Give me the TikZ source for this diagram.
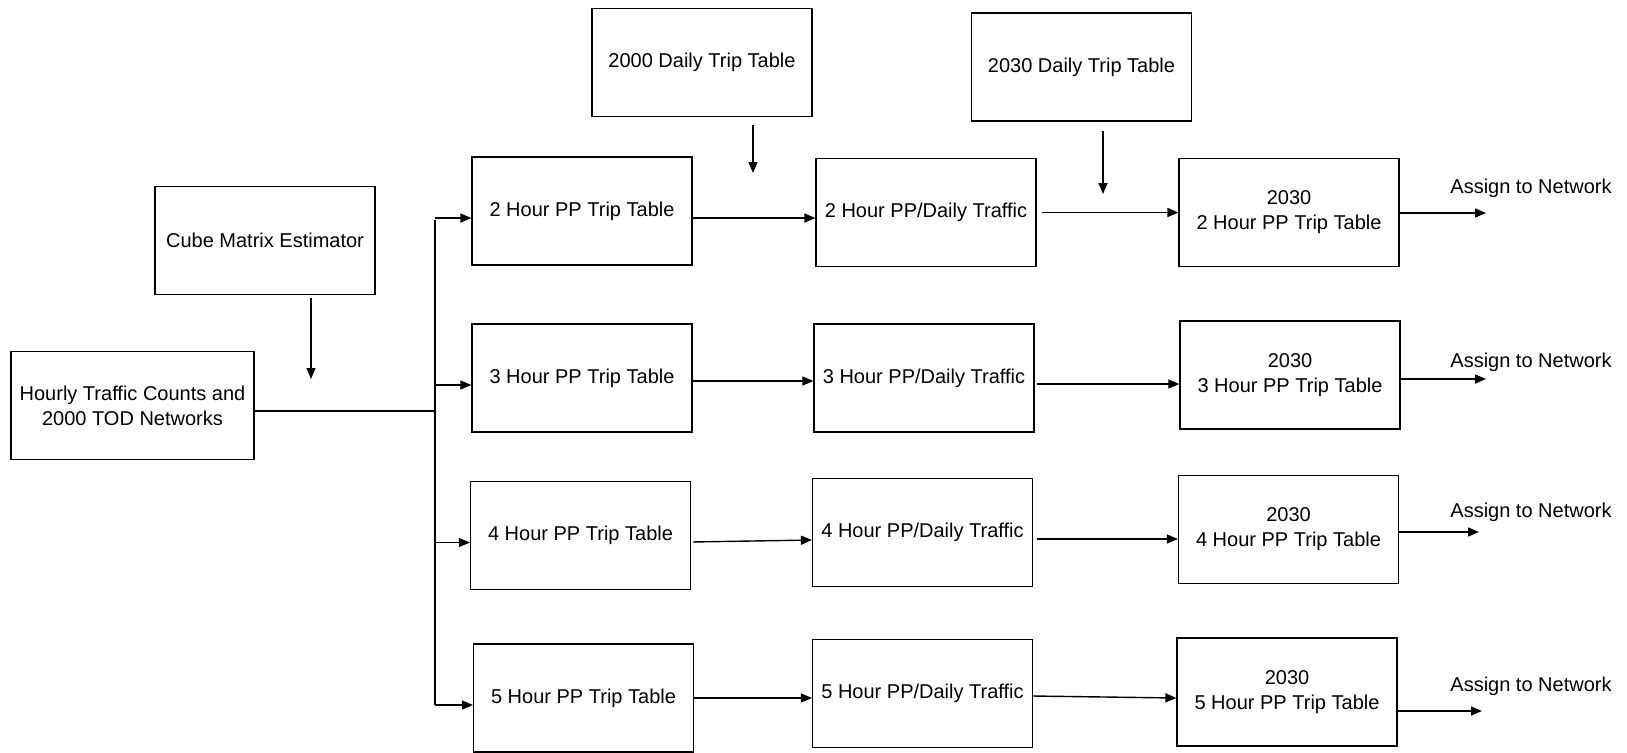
\documentclass[tikz,border=0pt]{standalone}
\usepackage{fontspec}
\setmainfont{Liberation Sans}
\usetikzlibrary{arrows.meta}

\begin{document}
\begin{tikzpicture}[x=0.5pt,y=-0.5pt,
  box/.style={draw,line width=0.6pt,minimum width=110pt,minimum height=54pt,
    inner sep=0pt,align=center,font=\fontsize{10}{12.5}\selectfont},
  arr/.style={line width=0.7pt,-{Triangle[length=5.5pt,width=4.5pt]}},
  lbl/.style={font=\fontsize{10}{12}\selectfont}]
  \useasboundingbox (0,0) rectangle (1627,752);

  % inputs
  \node[box] (cube) at (265,240.5) {Cube Matrix Estimator};
  \node[box,minimum width=121.5pt] (counts) at (132.5,405.5) {Hourly Traffic Counts and\\2000 TOD Networks};
  \node[box] (daily00) at (702,62.5) {2000 Daily Trip Table};
  \node[box] (daily30) at (1081.5,67) {2030 Daily Trip Table};

  % peak period trip tables
  \node[box] (pp2) at (582,211) {2 Hour PP Trip Table};
  \node[box] (pp3) at (582,378) {3 Hour PP Trip Table};
  \node[box] (pp4) at (580.5,535.5) {4 Hour PP Trip Table};
  \node[box] (pp5) at (583.5,698) {5 Hour PP Trip Table};

  % peak period / daily factors
  \node[box] (fac2) at (926,212.5) {2 Hour PP/Daily Traffic};
  \node[box] (fac3) at (924,378) {3 Hour PP/Daily Traffic};
  \node[box] (fac4) at (922.5,532.5) {4 Hour PP/Daily Traffic};
  \node[box] (fac5) at (922.5,693.5) {5 Hour PP/Daily Traffic};

  % 2030 tables
  \node[box] (fut2) at (1289,212.5) {2030\\2 Hour PP Trip Table};
  \node[box] (fut3) at (1290,375) {2030\\3 Hour PP Trip Table};
  \node[box] (fut4) at (1288.5,529.5) {2030\\4 Hour PP Trip Table};
  \node[box] (fut5) at (1287,692) {2030\\5 Hour PP Trip Table};

  % free ends
  \coordinate (bus) at (435,411);
  \coordinate (cubetip) at (311,379);
  \coordinate (tip00) at (753,173);
  \coordinate (tip30) at (1103,194);

  \draw[arr,shorten <=1.5pt] (cube.south -| cubetip) -- (cubetip);
  \draw[arr,shorten <=4pt] (daily00.south -| tip00) -- (tip00);
  \draw[arr,shorten <=4.5pt] (daily30.south -| tip30) -- (tip30);

  % split into the four periods
  \draw[line width=0.7pt] (counts.east |- bus) -- (bus);
  \draw[line width=0.7pt] ([yshift=-4.5pt]pp2.west -| bus) -- ([yshift=-3.5pt]pp5.west -| bus);
  \foreach \n in {pp2,pp3,pp4,pp5}
    \draw[arr] ([yshift=-3.5pt]\n.west -| bus) -- ([yshift=-3.5pt]\n.west);

  % trip table -> factor -> 2030
  \draw[arr] ([yshift=-3.5pt]pp2.east) -- ([yshift=-2.75pt]fac2.west);
  \draw[arr] ([yshift=-1.5pt]pp3.east) -- ([yshift=-1.5pt]fac3.west);
  \draw[arr,shorten <=1pt] ([yshift=-3.25pt]pp4.east) -- ([yshift=-3.75pt]fac4.west);
  \draw[arr] (pp5.east) -- ([yshift=-2.25pt]fac5.west);
  \draw[arr,shorten <=2.5pt] (fac2.east) -- (fut2.west);
  \draw[arr,shorten <=1pt] ([yshift=-3pt]fac3.east) -- ([yshift=-4.5pt]fut3.west);
  \draw[arr,shorten <=2pt] ([yshift=-3.25pt]fac4.east) -- ([yshift=-4.75pt]fut4.west);
  \draw[arr] ([yshift=-1.25pt]fac5.east) -- ([yshift=-3pt]fut5.west);

  % assign to network
  \coordinate (out2) at (1486,213);
  \coordinate (out3) at (1486,379);
  \coordinate (out4) at (1479,532);
  \coordinate (out5) at (1482,711);
  \foreach \n in {2,3,4,5}
    \draw[arr] (fut\n.east |- out\n) -- (out\n);
  \node[lbl] (asg2) at (1531,188) {Assign to Network};
  \node[lbl] (asg3) at (1531,362) {Assign to Network};
  \node[lbl] (asg4) at (1531,512) {Assign to Network};
  \node[lbl] (asg5) at (1531,686) {Assign to Network};
\end{tikzpicture}
\end{document}
